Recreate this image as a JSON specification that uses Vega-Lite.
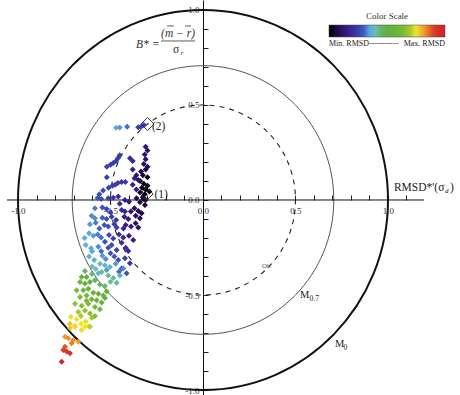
{
  "$schema": "https://vega.github.io/schema/vega-lite/v6.json",
  "width": 460,
  "height": 395,
  "padding": 0,
  "autosize": {"type": "none"},
  "background": "white",
  "config": {"view": {"stroke": null}},
  "datasets": {
    "pts": [
      {"x":-0.47,"y":0.38,"c":0.36},{"x":-0.45,"y":0.382,"c":0.34},{"x":-0.41,"y":0.385,"c":0.31},{"x":-0.35,"y":0.383,"c":0.25},{"x":-0.335,"y":0.386,"c":0.25},{"x":-0.32,"y":0.395,"c":0.24},
      {"x":-0.31,"y":0.28,"c":0.13},{"x":-0.30,"y":0.26,"c":0.12},{"x":-0.315,"y":0.24,"c":0.12},{"x":-0.31,"y":0.215,"c":0.1},{"x":-0.32,"y":0.19,"c":0.1},{"x":-0.30,"y":0.175,"c":0.08},{"x":-0.31,"y":0.16,"c":0.06},{"x":-0.335,"y":0.15,"c":0.07},{"x":-0.325,"y":0.13,"c":0.05},{"x":-0.30,"y":0.12,"c":0.04},{"x":-0.34,"y":0.10,"c":0.05},{"x":-0.32,"y":0.085,"c":0.02},{"x":-0.30,"y":0.075,"c":0.02},{"x":-0.33,"y":0.065,"c":0.03},{"x":-0.31,"y":0.055,"c":0.01},{"x":-0.34,"y":0.04,"c":0.02},{"x":-0.315,"y":0.03,"c":0.0},{"x":-0.29,"y":0.045,"c":0.02},{"x":-0.325,"y":0.015,"c":0.04},{"x":-0.31,"y":0.0,"c":0.05},
      {"x":-0.52,"y":0.175,"c":0.26},{"x":-0.50,"y":0.185,"c":0.25},{"x":-0.485,"y":0.195,"c":0.25},{"x":-0.47,"y":0.205,"c":0.25},{"x":-0.46,"y":0.22,"c":0.25},{"x":-0.45,"y":0.235,"c":0.24},{"x":-0.395,"y":0.22,"c":0.2},{"x":-0.38,"y":0.205,"c":0.19},
      {"x":-0.38,"y":0.16,"c":0.16},{"x":-0.36,"y":0.13,"c":0.14},{"x":-0.37,"y":0.115,"c":0.14},{"x":-0.35,"y":0.105,"c":0.12},
      {"x":-0.56,"y":0.03,"c":0.27},{"x":-0.54,"y":0.05,"c":0.27},{"x":-0.51,"y":0.065,"c":0.25},{"x":-0.49,"y":0.075,"c":0.25},{"x":-0.475,"y":0.08,"c":0.25},{"x":-0.46,"y":0.09,"c":0.25},{"x":-0.44,"y":0.095,"c":0.23},{"x":-0.42,"y":0.095,"c":0.23},{"x":-0.38,"y":0.08,"c":0.18},{"x":-0.36,"y":0.055,"c":0.16},{"x":-0.57,"y":0.01,"c":0.28},{"x":-0.55,"y":0.005,"c":0.27},
      {"x":-0.512,"y":0.009,"c":0.25},{"x":-0.485,"y":0.012,"c":0.23},{"x":-0.458,"y":0.018,"c":0.2},{"x":-0.422,"y":0.0,"c":0.16},{"x":-0.40,"y":-0.009,"c":0.14},{"x":-0.359,"y":0.009,"c":0.08},{"x":-0.341,"y":-0.012,"c":0.06},{"x":-0.323,"y":0.005,"c":0.04},{"x":-0.314,"y":-0.026,"c":0.05},
      {"x":-0.584,"y":-0.044,"c":0.32},{"x":-0.544,"y":-0.04,"c":0.28},{"x":-0.521,"y":-0.047,"c":0.27},{"x":-0.44,"y":-0.053,"c":0.2},{"x":-0.422,"y":-0.061,"c":0.18},{"x":-0.371,"y":-0.044,"c":0.1},{"x":-0.35,"y":-0.058,"c":0.08},{"x":-0.332,"y":-0.07,"c":0.06},
      {"x":-0.602,"y":-0.083,"c":0.33},{"x":-0.584,"y":-0.096,"c":0.33},{"x":-0.544,"y":-0.093,"c":0.3},{"x":-0.521,"y":-0.1,"c":0.28},{"x":-0.494,"y":-0.088,"c":0.25},{"x":-0.425,"y":-0.088,"c":0.16},{"x":-0.404,"y":-0.1,"c":0.14},{"x":-0.364,"y":-0.083,"c":0.1},{"x":-0.341,"y":-0.096,"c":0.08},
      {"x":-0.611,"y":-0.128,"c":0.34},{"x":-0.533,"y":-0.132,"c":0.29},{"x":-0.512,"y":-0.14,"c":0.28},{"x":-0.479,"y":-0.128,"c":0.25},{"x":-0.467,"y":-0.145,"c":0.25},{"x":-0.418,"y":-0.132,"c":0.16},{"x":-0.389,"y":-0.14,"c":0.14},{"x":-0.364,"y":-0.123,"c":0.1},{"x":-0.35,"y":-0.145,"c":0.1},
      {"x":-0.616,"y":-0.175,"c":0.35},{"x":-0.593,"y":-0.188,"c":0.34},{"x":-0.569,"y":-0.181,"c":0.32},{"x":-0.551,"y":-0.198,"c":0.31},{"x":-0.508,"y":-0.184,"c":0.27},{"x":-0.485,"y":-0.202,"c":0.25},{"x":-0.454,"y":-0.181,"c":0.22},{"x":-0.431,"y":-0.198,"c":0.19},{"x":-0.40,"y":-0.188,"c":0.16},{"x":-0.377,"y":-0.211,"c":0.16},
      {"x":-0.634,"y":-0.237,"c":0.37},{"x":-0.605,"y":-0.254,"c":0.36},{"x":-0.566,"y":-0.246,"c":0.33},{"x":-0.512,"y":-0.251,"c":0.28},{"x":-0.494,"y":-0.237,"c":0.27},{"x":-0.467,"y":-0.263,"c":0.25},{"x":-0.418,"y":-0.251,"c":0.2},{"x":-0.404,"y":-0.268,"c":0.19},
      {"x":-0.616,"y":-0.298,"c":0.38},{"x":-0.588,"y":-0.316,"c":0.37},{"x":-0.544,"y":-0.293,"c":0.34},{"x":-0.526,"y":-0.31,"c":0.33},{"x":-0.479,"y":-0.298,"c":0.29},{"x":-0.458,"y":-0.316,"c":0.27},{"x":-0.422,"y":-0.307,"c":0.25},{"x":-0.395,"y":-0.333,"c":0.23},
      {"x":-0.638,"y":-0.374,"c":0.46},{"x":-0.58,"y":-0.363,"c":0.40},{"x":-0.566,"y":-0.386,"c":0.38},{"x":-0.521,"y":-0.368,"c":0.34},{"x":-0.454,"y":-0.377,"c":0.31},{"x":-0.44,"y":-0.36,"c":0.29},{"x":-0.413,"y":-0.386,"c":0.28},
      {"x":-0.557,"y":-0.335,"c":0.40},{"x":-0.53,"y":-0.344,"c":0.38},{"x":-0.503,"y":-0.353,"c":0.37},{"x":-0.472,"y":-0.335,"c":0.34},{"x":-0.431,"y":-0.361,"c":0.33},{"x":-0.449,"y":-0.397,"c":0.36},{"x":-0.512,"y":-0.397,"c":0.42},{"x":-0.485,"y":-0.411,"c":0.42},{"x":-0.548,"y":-0.379,"c":0.42},{"x":-0.467,"y":-0.435,"c":0.42},
      {"x":-0.656,"y":-0.405,"c":0.56},{"x":-0.629,"y":-0.405,"c":0.53},{"x":-0.665,"y":-0.432,"c":0.56},{"x":-0.638,"y":-0.44,"c":0.53},{"x":-0.611,"y":-0.432,"c":0.5},{"x":-0.584,"y":-0.423,"c":0.46},{"x":-0.557,"y":-0.445,"c":0.46},{"x":-0.53,"y":-0.452,"c":0.44},
      {"x":-0.683,"y":-0.475,"c":0.62},{"x":-0.647,"y":-0.475,"c":0.58},{"x":-0.62,"y":-0.467,"c":0.56},{"x":-0.593,"y":-0.488,"c":0.53},{"x":-0.566,"y":-0.493,"c":0.53},{"x":-0.539,"y":-0.502,"c":0.53},{"x":-0.521,"y":-0.481,"c":0.5},
      {"x":-0.665,"y":-0.511,"c":0.62},{"x":-0.629,"y":-0.502,"c":0.6},{"x":-0.602,"y":-0.523,"c":0.58},{"x":-0.575,"y":-0.528,"c":0.56},{"x":-0.548,"y":-0.54,"c":0.56},{"x":-0.53,"y":-0.516,"c":0.53},
      {"x":-0.692,"y":-0.546,"c":0.66},{"x":-0.656,"y":-0.556,"c":0.64},{"x":-0.62,"y":-0.546,"c":0.63},{"x":-0.584,"y":-0.563,"c":0.62},{"x":-0.557,"y":-0.575,"c":0.6},
      {"x":-0.674,"y":-0.589,"c":0.69},{"x":-0.638,"y":-0.581,"c":0.67},{"x":-0.611,"y":-0.598,"c":0.66},{"x":-0.584,"y":-0.61,"c":0.64},
      {"x":-0.714,"y":-0.615,"c":0.76},{"x":-0.683,"y":-0.628,"c":0.75},{"x":-0.719,"y":-0.651,"c":0.78},{"x":-0.692,"y":-0.663,"c":0.77},{"x":-0.659,"y":-0.651,"c":0.75},{"x":-0.634,"y":-0.639,"c":0.74},{"x":-0.62,"y":-0.663,"c":0.75},
      {"x":-0.719,"y":-0.674,"c":0.78},{"x":-0.692,"y":-0.668,"c":0.76},{"x":-0.656,"y":-0.684,"c":0.76},{"x":-0.638,"y":-0.667,"c":0.75},{"x":-0.611,"y":-0.667,"c":0.71},
      {"x":-0.746,"y":-0.72,"c":0.82},{"x":-0.728,"y":-0.728,"c":0.83},{"x":-0.701,"y":-0.737,"c":0.83},{"x":-0.674,"y":-0.746,"c":0.82},{"x":-0.71,"y":-0.754,"c":0.85},
      {"x":-0.746,"y":-0.772,"c":0.88},{"x":-0.755,"y":-0.789,"c":0.9},{"x":-0.737,"y":-0.798,"c":0.92},{"x":-0.719,"y":-0.807,"c":0.93},{"x":-0.764,"y":-0.851,"c":1.0},
      {"x":-0.45,"y":-0.02,"c":0.2},{"x":-0.5,"y":-0.065,"c":0.25},{"x":-0.47,"y":-0.105,"c":0.23},{"x":-0.56,"y":-0.15,"c":0.3},{"x":-0.44,"y":-0.225,"c":0.21},{"x":-0.53,"y":-0.22,"c":0.28},{"x":-0.6,"y":-0.27,"c":0.35},{"x":-0.5,"y":-0.28,"c":0.28},{"x":-0.43,"y":-0.15,"c":0.18},{"x":-0.39,"y":-0.06,"c":0.12},{"x":-0.58,"y":-0.12,"c":0.32},{"x":-0.64,"y":-0.2,"c":0.36},{"x":-0.55,"y":-0.27,"c":0.31},{"x":-0.6,"y":-0.35,"c":0.4},{"x":-0.6,"y":-0.39,"c":0.44},{"x":-0.63,"y":-0.53,"c":0.62},{"x":-0.66,"y":-0.61,"c":0.7},{"x":-0.6,"y":-0.62,"c":0.68},{"x":-0.5,"y":-0.43,"c":0.42},{"x":-0.52,"y":0.12,"c":0.25}
    ]
  },
  "encoding": {
    "x": {"field": "x", "type": "quantitative", "title": null,
      "scale": {"domain": [-1.0973, 1.3892], "nice": false, "zero": false},
      "axis": {"orient": "bottom", "offset": -195, "domain": false, "grid": false,
        "values": [-1,-0.9,-0.8,-0.7,-0.6,-0.5,-0.4,-0.3,-0.2,-0.1,0,0.1,0.2,0.3,0.4,0.5,0.6,0.7,0.8,0.9,1,1.1],
        "tickSize": -5, "tickColor": "#222", "tickWidth": 1,
        "labelExpr": "abs(datum.value*2 - round(datum.value*2)) < 0.001 ? replace(format(datum.value, '.1f'), '\u2212', '-') : ''",
        "labelFont": "Liberation Serif", "labelFontSize": 9, "labelColor": "#333", "labelPadding": 11,
        "labelOverlap": false, "labelFlush": false, "labelBound": false}},
    "y": {"field": "y", "type": "quantitative", "title": null,
      "scale": {"domain": [-1.0263, 1.0526], "nice": false, "zero": false},
      "axis": {"orient": "left", "offset": -203, "domain": true, "domainColor": "#111", "domainWidth": 1, "grid": false,
        "values": [-1,-0.9,-0.8,-0.7,-0.6,-0.5,-0.4,-0.3,-0.2,-0.1,0,0.1,0.2,0.3,0.4,0.5,0.6,0.7,0.8,0.9,1],
        "tickSize": -5, "tickColor": "#222", "tickWidth": 1,
        "labelExpr": "abs(datum.value*2 - round(datum.value*2)) < 0.001 ? replace(format(datum.value, '.1f'), '\u2212', '-') : ''",
        "labelFont": "Liberation Serif", "labelFontSize": 9, "labelColor": "#333", "labelPadding": 9,
        "labelOverlap": false, "labelFlush": false, "labelBound": false}}
  },
  "layer": [
    {
      "data": {"values": [{"x": 0, "y": 0, "r": 1}]},
      "mark": {"type": "point", "shape": "M -1 0 A 1 1.027 0 1 0 1 0 A 1 1.027 0 1 0 -1 0 Z", "filled": false, "stroke": "#111", "strokeWidth": 2, "opacity": 1},
      "encoding": {"size": {"field": "r", "type": "quantitative", "scale": {"type": "pow", "exponent": 2, "domain": [0, 1], "range": [0, 136900]}, "legend": null}}
    },
    {
      "data": {"values": [{"x": 0, "y": 0, "r": 0.707}]},
      "mark": {"type": "point", "shape": "M -1 0 A 1 1.027 0 1 0 1 0 A 1 1.027 0 1 0 -1 0 Z", "filled": false, "stroke": "#555", "strokeWidth": 1, "opacity": 1},
      "encoding": {"size": {"field": "r", "type": "quantitative", "scale": {"type": "pow", "exponent": 2, "domain": [0, 1], "range": [0, 136900]}, "legend": null}}
    },
    {
      "data": {"values": [{"x": 0, "y": 0, "r": 0.5}]},
      "mark": {"type": "point", "shape": "M -1 0 A 1 1.027 0 1 0 1 0 A 1 1.027 0 1 0 -1 0 Z", "filled": false, "stroke": "#222", "strokeWidth": 1.1, "strokeDash": [5, 5], "opacity": 1},
      "encoding": {"size": {"field": "r", "type": "quantitative", "scale": {"type": "pow", "exponent": 2, "domain": [0, 1], "range": [0, 136900]}, "legend": null}}
    },
    {
      "data": {"values": [{"x": -1.06, "x2": 1.195, "y": 0}]},
      "mark": {"type": "rule", "color": "#111", "strokeWidth": 1},
      "encoding": {"x2": {"field": "x2"}}
    },
    {
      "data": {"name": "pts"},
      "mark": {"type": "point", "shape": "diamond", "filled": true, "size": 36, "opacity": 1},
      "encoding": {
        "color": {"field": "c", "type": "quantitative",
          "scale": {"domain": [0,0.05,0.1,0.15,0.2,0.25,0.3,0.35,0.4,0.45,0.5,0.55,0.6,0.65,0.7,0.75,0.8,0.85,0.9,0.95,1],
            "range": ["#000000","#1a0838","#2a1060","#321c84","#3a2a98","#3a3eae","#3f5cc0","#58a8e0","#6cbcb8","#64b468","#60b040","#66b23a","#70b838","#84be34","#a8c830","#f0e428","#f0b030","#e87a28","#d84028","#d02a28","#c82828"],
            "interpolate": "rgb"},
          "legend": {"orient": "none", "legendX": 329, "legendY": 12, "direction": "horizontal",
            "gradientLength": 116, "gradientThickness": 12, "title": "Color Scale",
            "titleFont": "Liberation Serif", "titleFontSize": 9, "titleFontWeight": "normal", "titleColor": "#333",
            "titleAnchor": "middle", "titlePadding": 4, "values": [0, 1],
            "labelExpr": "datum.value < 0.5 ? 'Min. RMSD-----------' : 'Max. RMSD'",
            "labelFont": "Liberation Serif", "labelFontSize": 8, "labelColor": "#222", "labelOverlap": false, "labelOffset": 3,
            "gradientStrokeColor": "#444", "gradientStrokeWidth": 0.5}}
      }
    },
    {
      "data": {"values": [{"x": -0.30, "y": 0.40}, {"x": -0.305, "y": 0.032}]},
      "mark": {"type": "point", "shape": "diamond", "filled": false, "stroke": "#333", "strokeWidth": 1, "size": 170, "opacity": 1}
    },
    {
      "data": {"values": [{"x": -0.276, "y": 0.37, "t": "(2)"}, {"x": -0.262, "y": 0.008, "t": "(1)"}, {"x": 1.032, "y": 0.049, "t": "RMSD*'(σ"}, {"x": 1.335, "y": 0.047, "t": ")"}]},
      "mark": {"type": "text", "font": "Liberation Serif", "fontSize": 11.5, "align": "left", "baseline": "alphabetic", "color": "#222"},
      "encoding": {"text": {"field": "t"}}
    },
    {
      "data": {"values": [{"x": 1.308, "y": 0.035, "t": "d"}, {"x": -0.12, "y": 0.763, "t": "r"}]},
      "mark": {"type": "text", "font": "Liberation Serif", "fontSize": 7, "fontStyle": "italic", "align": "left", "baseline": "alphabetic", "color": "#222"},
      "encoding": {"text": {"field": "t"}}
    },
    {
      "data": {"values": [{"x": -0.362, "y": 0.80, "t": "B* ="}]},
      "mark": {"type": "text", "font": "Liberation Serif", "fontSize": 11.5, "fontStyle": "italic", "align": "left", "baseline": "alphabetic", "color": "#333"},
      "encoding": {"text": {"field": "t"}}
    },
    {
      "data": {"values": [{"x": -0.135, "y": 0.858, "t": "(m − r)"}]},
      "mark": {"type": "text", "font": "Liberation Serif", "fontSize": 11.5, "fontStyle": "italic", "align": "center", "baseline": "alphabetic", "color": "#333"},
      "encoding": {"text": {"field": "t"}}
    },
    {
      "data": {"values": [{"x": -0.146, "y": 0.774, "t": "σ"}]},
      "mark": {"type": "text", "font": "Liberation Serif", "fontSize": 11.5, "align": "center", "baseline": "alphabetic", "color": "#333"},
      "encoding": {"text": {"field": "t"}}
    },
    {
      "data": {"values": [{"x": -0.227, "x2": -0.043, "y": 0.837}, {"x": -0.195, "x2": -0.157, "y": 0.916}, {"x": -0.097, "x2": -0.065, "y": 0.916}]},
      "mark": {"type": "rule", "color": "#333", "strokeWidth": 0.8},
      "encoding": {"x2": {"field": "x2"}}
    },
    {
      "data": {"values": [{"x": 0.524, "y": -0.516, "t": "M"}, {"x": 0.714, "y": -0.774, "t": "M"}]},
      "mark": {"type": "text", "font": "Liberation Serif", "fontSize": 10.5, "align": "left", "baseline": "alphabetic", "color": "#222"},
      "encoding": {"text": {"field": "t"}}
    },
    {
      "data": {"values": [{"x": 0.576, "y": -0.532, "t": "0.7"}, {"x": 0.759, "y": -0.789, "t": "0"}]},
      "mark": {"type": "text", "font": "Liberation Serif", "fontSize": 7.5, "align": "left", "baseline": "alphabetic", "color": "#222"},
      "encoding": {"text": {"field": "t"}}
    },
    {
      "data": {"values": [{"x": 0.319, "y": -0.358, "t": "Ob"}]},
      "mark": {"type": "text", "font": "Liberation Serif", "fontSize": 7, "align": "left", "baseline": "alphabetic", "color": "#555"},
      "encoding": {"text": {"field": "t"}}
    }
  ]
}
